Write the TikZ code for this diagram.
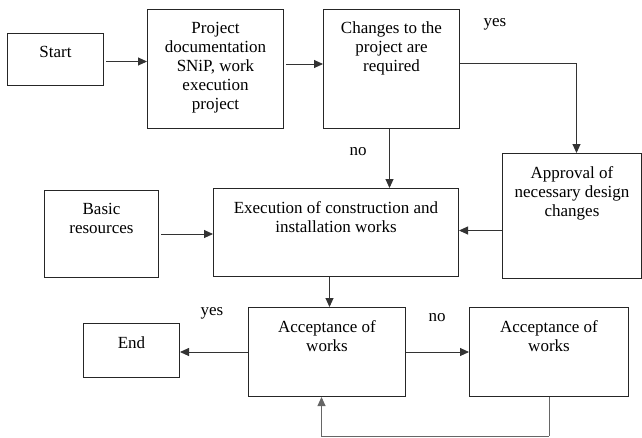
\documentclass[tikz,border=0pt]{standalone}
\usepackage{fontspec}
\setmainfont{Liberation Serif}
\usetikzlibrary{arrows.meta,calc}
\begin{document}
\begin{tikzpicture}[x=1pt,y=-1pt,
  font=\fontsize{17}{19}\selectfont,
  box/.style={draw=black!85, line width=1pt, rectangle, anchor=north west, inner sep=0pt},
  txt/.style={align=center, inner sep=0pt, anchor=north},
  conn/.style={draw=black!80, line width=0.9pt, -{Triangle[length=9pt,width=8pt]}},
  plain/.style={draw=black!60, line width=0.9pt},
  lbl/.style={inner sep=0pt}]
\useasboundingbox (0,0) rectangle (642,437);
% boxes
\node[box, minimum width=96pt, minimum height=52pt] (Start) at (7,33) {};
\node[box, minimum width=136pt, minimum height=119pt] (Proj) at (147,9) {};
\node[box, minimum width=136pt, minimum height=119pt] (Chg) at (323,9) {};
\node[box, minimum width=139pt, minimum height=125pt] (Appr) at (502,153) {};
\node[box, minimum width=114pt, minimum height=87pt] (Basic) at (44,190) {};
\node[box, minimum width=245pt, minimum height=88pt] (Exec) at (213,188) {};
\node[box, minimum width=96pt, minimum height=54pt] (End) at (83,323) {};
\node[box, minimum width=157pt, minimum height=89pt] (Acc) at (248,307) {};
\node[box, minimum width=159pt, minimum height=89pt] (Acc2) at (469,307) {};
% texts
\node[txt] (tStart) at ([yshift=-13pt]Start.north) {Start};
\node[txt] (tProj) at ([yshift=-13pt]Proj.north) {Project\\documentation\\SNiP, work\\execution\\project};
\node[txt] (tChg) at ([yshift=-13pt]Chg.north) {Changes to the\\project are\\required};
\node[txt] (tAppr) at ([yshift=-13pt]Appr.north) {Approval of\\necessary design\\changes};
\node[txt] (tBasic) at ([yshift=-13pt]Basic.north) {Basic\\resources};
\node[txt] (tExec) at ([yshift=-13pt]Exec.north) {Execution of construction and\\installation works};
\node[txt] (tEnd) at ([yshift=-13pt]End.north) {End};
\node[txt] (tAcc) at ([yshift=-13pt]Acc.north) {Acceptance of\\works};
\node[txt] (tAcc2) at ([yshift=-13pt]Acc2.north) {Acceptance of\\works};
% labels
\node[lbl] (yes1) at (495,24) {yes};
\node[lbl] (no1) at (358,152) {no};
\node[lbl] (yes2) at (212,313) {yes};
\node[lbl] (no2) at (437,318) {no};
% connectors
\draw[conn] ([xshift=2pt,yshift=-2pt]Start.east) -- ([yshift=-2pt]Start.east -| Proj.west);
\draw[conn] ([yshift=5pt,xshift=2pt]Proj.east) -- ([yshift=5pt]Chg.west);
\draw[conn] ([yshift=5.5pt]Chg.east) -| ([xshift=4.5pt]Appr.north);
\draw[conn] ([xshift=-2pt]Chg.south) -- ([xshift=-2pt]Chg.south |- Exec.north);
\draw[conn] ([yshift=2pt]Appr.west |- Exec.east) -- ([yshift=2pt]Exec.east);
\draw[conn] ([xshift=2pt]Basic.east) -- (Exec.west |- Basic.east);
\draw[conn] ([xshift=2.5pt]Acc.north |- Exec.south) -- ([xshift=2.5pt]Acc.north);
\draw[conn] (Acc.west) -- (End.east |- Acc.west);
\draw[conn] (Acc.east) -- (Acc2.west |- Acc.east);
\coordinate (loopR) at ($(Acc2.south)+(0,39)$);
\draw[plain] (Acc2.south) -- (loopR);
\draw[conn, draw=black!60] (loopR) -| ([xshift=-5.5pt]Acc.south);
\end{tikzpicture}
\end{document}
